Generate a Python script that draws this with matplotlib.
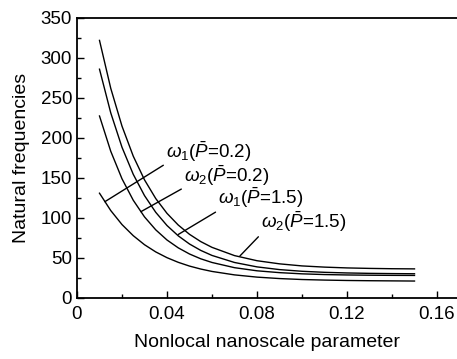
import numpy as np
import matplotlib
matplotlib.use("Agg")
import matplotlib.pyplot as plt
from matplotlib.ticker import MultipleLocator, FixedLocator

plt.rcParams['font.family'] = ['Liberation Sans', 'DejaVu Sans']
plt.rcParams['mathtext.fontset'] = 'custom'
plt.rcParams['mathtext.rm'] = 'Liberation Sans'
plt.rcParams['mathtext.it'] = 'Liberation Sans:italic'

# nonlocal nanoscale parameter
x = [0.01, 0.015, 0.02, 0.025, 0.03, 0.035, 0.04, 0.045, 0.05, 0.055,
     0.06, 0.07, 0.08, 0.09, 0.10, 0.11, 0.12, 0.13, 0.14, 0.15]

w1_p02 = [131.0, 109.3, 91.8, 77.9, 66.6, 57.6, 50.4, 44.6, 39.9, 36.2,
          33.2, 28.9, 26.1, 24.3, 23.1, 22.4, 21.9, 21.6, 21.4, 21.2]
w2_p02 = [227.5, 183.4, 149.0, 122.2, 101.4, 85.2, 72.5, 62.7, 55.0, 49.0,
          44.4, 37.9, 34.0, 31.7, 30.2, 29.3, 28.8, 28.5, 28.3, 28.2]
w1_p15 = [286.0, 231.4, 188.4, 154.6, 128.0, 107.1, 90.6, 77.7, 67.5, 59.5,
          53.2, 44.4, 38.9, 35.5, 33.4, 32.1, 31.3, 30.8, 30.5, 30.3]
w2_p15 = [322.0, 262.1, 214.8, 177.3, 147.7, 124.3, 105.8, 91.2, 79.6, 70.5,
          63.3, 53.0, 46.6, 42.7, 40.1, 38.6, 37.6, 37.0, 36.6, 36.4]

labels = [r'$\omega_1$($\bar{P}$=0.2)', r'$\omega_2$($\bar{P}$=0.2)',
          r'$\omega_1$($\bar{P}$=1.5)', r'$\omega_2$($\bar{P}$=1.5)']
series = [w1_p02, w2_p02, w1_p15, w2_p15]

xticks = [0, 0.04, 0.08, 0.12, 0.16]
xticklabels = ['0', '0.04', '0.08', '0.12', '0.16']
yticks = [0, 50, 100, 150, 200, 250, 300, 350]

fig = plt.figure(figsize=(4.57, 3.59), dpi=100)
ax = fig.add_axes([77/457, 61/359, 1 - 77/457, 280/359])

for s in series:
    ax.plot(x, s, color='black', lw=1.0)

ax.set_xlim(0, 380/2250)
ax.set_ylim(0, 350)
ax.xaxis.set_major_locator(FixedLocator(xticks))
ax.set_xticklabels(xticklabels)
ax.xaxis.set_minor_locator(MultipleLocator(0.02))
ax.yaxis.set_major_locator(FixedLocator(yticks))
ax.yaxis.set_minor_locator(MultipleLocator(25))
ax.tick_params(which='both', direction='in', labelsize=13.5, width=1.0)
ax.tick_params(which='major', length=5)
ax.tick_params(which='minor', length=3)
ax.tick_params(axis='x', pad=6)
ax.spines['right'].set_visible(False)
for sp in ['left', 'bottom', 'top']:
    ax.spines[sp].set_linewidth(1.3)

ax.set_xlabel('Nonlocal nanoscale parameter', fontsize=14, labelpad=8)
ax.set_ylabel('Natural frequencies', fontsize=14, labelpad=8)

# annotation anchors: (text anchor, curve point)
ann_text = [(0.0396, 168.1), (0.0476, 138.1), (0.0628, 109.4), (0.0818, 80.0)]
ann_end = [(0.0124, 120.4), (0.0284, 107.9), (0.0450, 79.4), (0.0724, 52.5)]
for lab, t, e in zip(labels, ann_text, ann_end):
    ax.annotate(lab, xy=e, xytext=t, ha='left', va='bottom', fontsize=13.5,
                arrowprops=dict(arrowstyle='-', color='black', lw=1.0,
                                shrinkA=0, shrinkB=0, relpos=(0, 0)))

fig.savefig('out.png', dpi=100)
